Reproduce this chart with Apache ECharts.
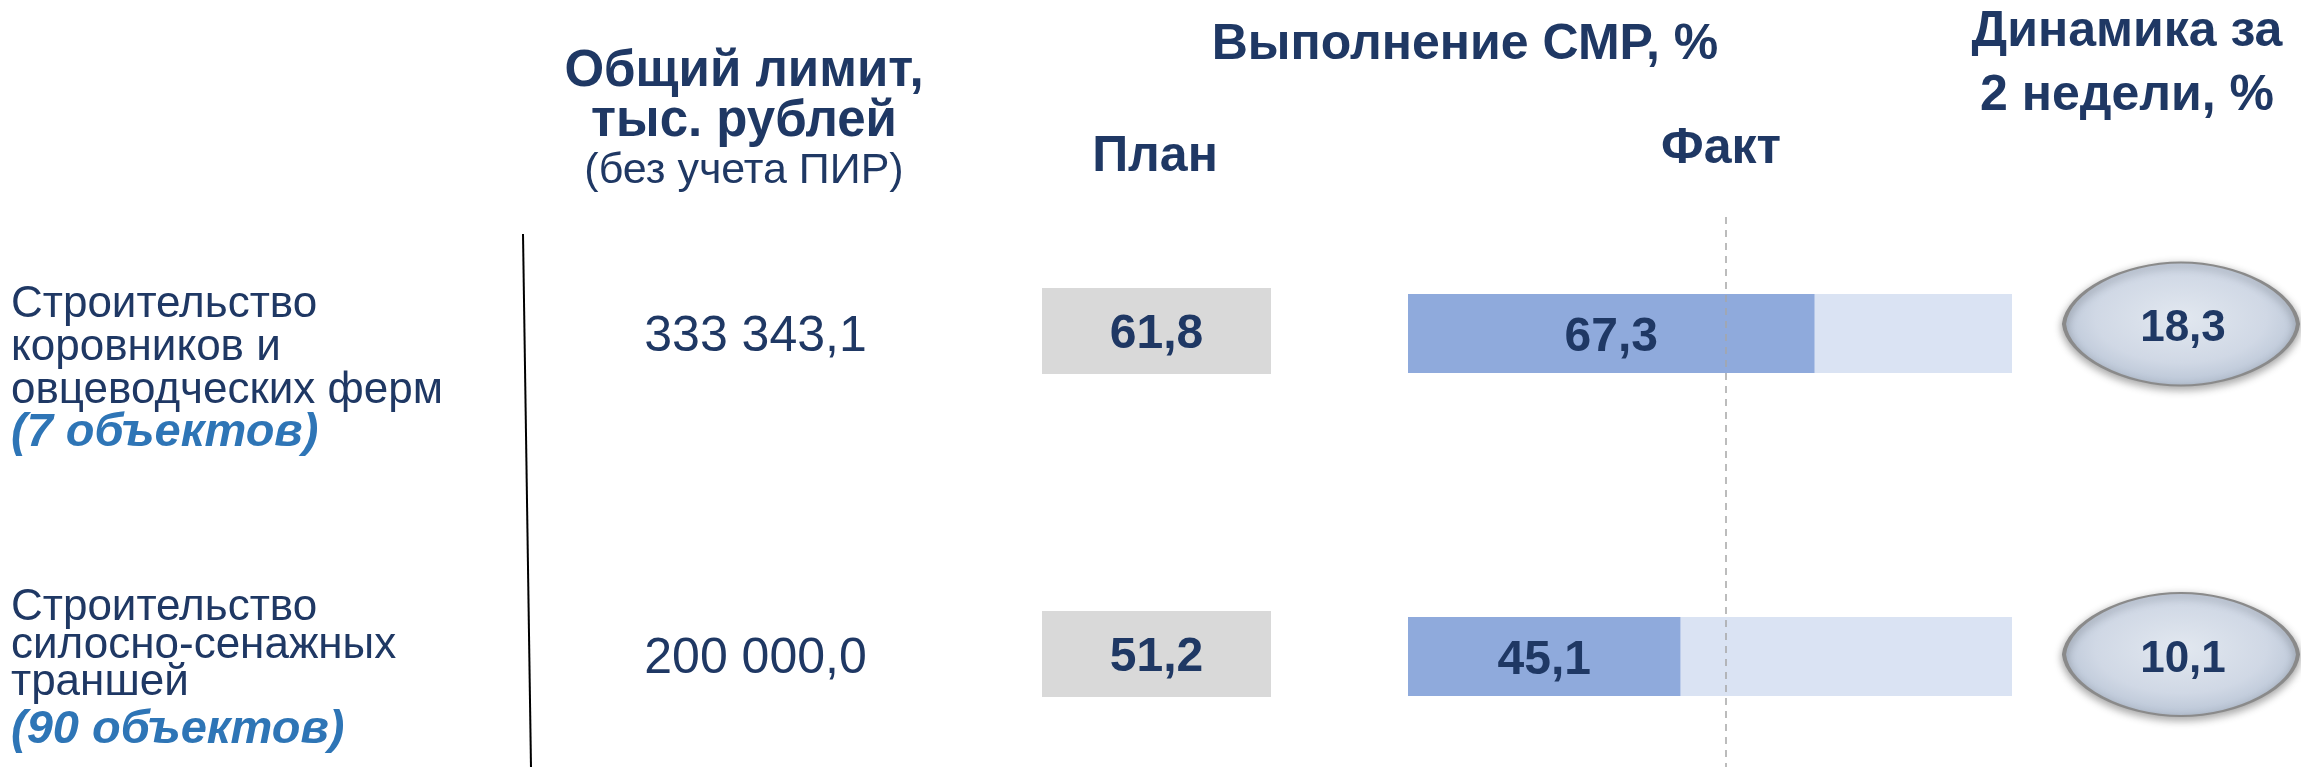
<!DOCTYPE html>
<html>
<head>
<meta charset="utf-8">
<script src="https://cdn.jsdelivr.net/npm/echarts@6/dist/echarts.min.js"></script>
<style>
html,body{margin:0;padding:0;background:#ffffff;}
#chart{width:2301px;height:767px;}
</style>
</head>
<body>
<div id="chart"></div>
<script>
// ---------- data ----------
const rowNames = ['Строительство\nкоровников и\nовцеводческих ферм', 'Строительство\nсилосно-сенажных\nтраншей'];
const objectCounts = ['(7 объектов)', '(90 объектов)'];
const limitValues = [333343.1, 200000.0];
const planValues = [61.8, 51.2];
const factValues = [67.3, 45.1];
const dynamicsValues = [18.3, 10.1];
const referenceLine = [52.6];
const limitHeader = ['Общий лимит,', 'тыс. рублей', '(без учета ПИР)'];
const smrHeader = ['Выполнение СМР, %'];
const planHeader = ['План'];
const factHeader = ['Факт'];
const dynamicsHeader = ['Динамика за', '2 недели, %'];

// ---------- helpers ----------
const NAVY = '#1f3864';
const BLUE = '#2e75b6';
const FONT = '"Liberation Sans", Arial, sans-serif';
function ru(v, d) {
  const s = v.toFixed(d).split('.');
  const i = s[0].replace(/\B(?=(\d{3})+(?!\d))/g, ' ');
  return s.length > 1 ? i + ',' + s[1] : i;
}
const rowIdx = rowNames.map((_, i) => String(i));

function catY(gi, data) {
  return {
    type: 'category', gridIndex: gi, data: data, inverse: true, boundaryGap: false,
    axisLine: {show: false}, axisTick: {show: false}, splitLine: {show: false},
    axisLabel: {show: false}
  };
}
function hiddenCatX(gi, name) {
  return {type: 'category', gridIndex: gi, data: [name], show: false};
}
function grid(left, width, top, bottom) {
  return {left: left, width: width, top: top, bottom: bottom, containLabel: false, outerBoundsMode: 'none'};
}

const chart = echarts.init(document.getElementById('chart'), null, {renderer: 'canvas'});

const option = {
  animation: false,
  backgroundColor: '#ffffff',
  grid: [
    grid(11, 500, 369, 93),           // 0 row labels
    grid(644, 223, 334, 111),         // 1 limit
    grid(1042, 229, 331, 113),        // 2 plan
    grid(1408, 604, 333.5, 110.5),    // 3 fact
    grid(2063, 236, 324, 112.5)       // 4 dynamics
  ],
  xAxis: [
    {type: 'value', gridIndex: 0, show: false, min: 0, max: 1},
    hiddenCatX(1, 'limit'),
    hiddenCatX(2, 'plan'),
    {type: 'value', gridIndex: 3, show: false, min: 0, max: 100},
    hiddenCatX(4, 'dyn')
  ],
  yAxis: [
    {
      type: 'category', gridIndex: 0, data: rowIdx, inverse: true, boundaryGap: false,
      axisLine: {show: false}, axisTick: {show: false}, splitLine: {show: false},
      axisLabel: {
        show: true, inside: true, margin: 0, interval: 0, align: 'left',
        formatter: function (val, idx) {
          const k = Number(val);
          const lines = rowNames[k].split('\n').map(l => '{n' + k + '|' + l + '}');
          lines.push('{c' + k + '|' + objectCounts[k] + '}');
          return lines.join('\n');
        },
        rich: {
          n0: {fontFamily: FONT, fontSize: 44, lineHeight: 43, color: NAVY},
          n1: {fontFamily: FONT, fontSize: 44, lineHeight: 37.5, color: NAVY},
          c0: {fontFamily: FONT, fontSize: 47, fontWeight: 'bold', fontStyle: 'italic', lineHeight: 43, color: BLUE},
          c1: {fontFamily: FONT, fontSize: 47, fontWeight: 'bold', fontStyle: 'italic', lineHeight: 56.5, color: BLUE}
        }
      }
    },
    catY(1, rowIdx),
    catY(2, rowIdx),
    catY(3, rowIdx),
    catY(4, rowIdx)
  ],
  series: [
    {
      name: 'limit', type: 'scatter', xAxisIndex: 1, yAxisIndex: 1,
      symbol: 'rect', symbolSize: 1, itemStyle: {color: 'rgba(0,0,0,0)', opacity: 1},
      data: limitValues.map((v, i) => [0, i, v]),
      label: {
        show: true, position: 'inside', offset: [0, 3], color: NAVY, fontFamily: FONT, fontSize: 50,
        textBorderWidth: 0, opacity: 1,
        formatter: p => ru(p.value[2], 1)
      }
    },
    {
      name: 'plan', type: 'scatter', xAxisIndex: 2, yAxisIndex: 2,
      symbol: 'rect', symbolSize: [229, 86], itemStyle: {color: '#d9d9d9', opacity: 1},
      data: planValues.map((v, i) => [0, i, v]),
      label: {
        show: true, position: 'inside', offset: [0, 4], color: NAVY, fontFamily: FONT, fontSize: 48, fontWeight: 'bold',
        textBorderWidth: 0, opacity: 1,
        formatter: p => ru(p.value[2], 1)
      }
    },
    {
      name: 'fact', type: 'bar', xAxisIndex: 3, yAxisIndex: 3,
      barWidth: 79,
      showBackground: true,
      backgroundStyle: {color: '#dae3f3'},
      itemStyle: {color: '#8faadc'},
      data: factValues,
      label: {
        show: true, position: 'inside', offset: [0, 4], color: NAVY, fontFamily: FONT, fontSize: 48, fontWeight: 'bold',
        textBorderWidth: 0,
        formatter: p => ru(p.value, 1)
      },
      markLine: {
        silent: true, symbol: 'none',
        label: {show: false},
        lineStyle: {color: '#a6a6a6', width: 1.5, type: [7, 6]},
        data: referenceLine.map(v => [{xAxis: v, y: 217}, {xAxis: v, y: 767}])
      }
    },
    {
      name: 'dynamics', type: 'scatter', xAxisIndex: 4, yAxisIndex: 4,
      symbol: 'path://M0,50 C1.5,24 25,0 50,0 C75,0 98.5,24 100,50 C98.5,76 75,100 50,100 C25,100 1.5,76 0,50 Z',
      symbolSize: [234, 123],
      itemStyle: {
        opacity: 1,
        color: {
          type: 'radial', x: 0.5, y: 0.45, r: 0.6,
          colorStops: [
            {offset: 0, color: '#e2e8f0'},
            {offset: 0.6, color: '#d0d8e5'},
            {offset: 0.85, color: '#bdc8d8'},
            {offset: 1, color: '#a8b2c2'}
          ]
        },
        borderColor: '#8a8a8a', borderWidth: 3,
        shadowBlur: 8, shadowColor: 'rgba(0,0,0,0.35)', shadowOffsetY: 3
      },
      data: dynamicsValues.map((v, i) => [0, i, v]),
      label: {
        show: true, position: 'inside', offset: [2, 5], color: NAVY, fontFamily: FONT, fontSize: 44, fontWeight: 'bold',
        textBorderWidth: 0, opacity: 1,
        formatter: p => ru(p.value[2], 1)
      }
    }
  ],
  graphic: [
    {
      type: 'text', x: 744, y: 121, silent: true,
      style: {
        text: '{b|' + limitHeader[0] + '}\n{b|' + limitHeader[1] + '}\n{r|' + limitHeader[2] + '}',
        align: 'center', verticalAlign: 'middle', textAlign: 'center', textVerticalAlign: 'middle',
        rich: {
          b: {fontFamily: FONT, fontSize: 51, fontWeight: 'bold', lineHeight: 50, fill: NAVY, color: NAVY},
          r: {fontFamily: FONT, fontSize: 43, lineHeight: 49, fill: NAVY, color: NAVY}
        }
      }
    },
    {
      type: 'text', x: 1465, y: 45, silent: true,
      style: {text: smrHeader[0], font: 'bold 50px ' + FONT, fill: NAVY,
        align: 'center', verticalAlign: 'middle', textAlign: 'center', textVerticalAlign: 'middle'}
    },
    {
      type: 'text', x: 1155, y: 157, silent: true,
      style: {text: planHeader[0], font: 'bold 50px ' + FONT, fill: NAVY,
        align: 'center', verticalAlign: 'middle', textAlign: 'center', textVerticalAlign: 'middle'}
    },
    {
      type: 'text', x: 1721, y: 149, silent: true,
      style: {text: factHeader[0], font: 'bold 50px ' + FONT, fill: NAVY,
        align: 'center', verticalAlign: 'middle', textAlign: 'center', textVerticalAlign: 'middle'}
    },
    {
      type: 'text', x: 2127, y: 64, silent: true,
      style: {
        text: '{h|' + dynamicsHeader[0] + '}\n{h|' + dynamicsHeader[1] + '}',
        align: 'center', verticalAlign: 'middle', textAlign: 'center', textVerticalAlign: 'middle',
        rich: {h: {fontFamily: FONT, fontSize: 50, fontWeight: 'bold', lineHeight: 64, fill: NAVY, color: NAVY}}
      }
    },
    {
      type: 'line', silent: true,
      shape: {x1: 523, y1: 234, x2: 531, y2: 767},
      style: {stroke: '#000000', lineWidth: 2}
    }
  ]
};
chart.setOption(option);
</script>
</body>
</html>
